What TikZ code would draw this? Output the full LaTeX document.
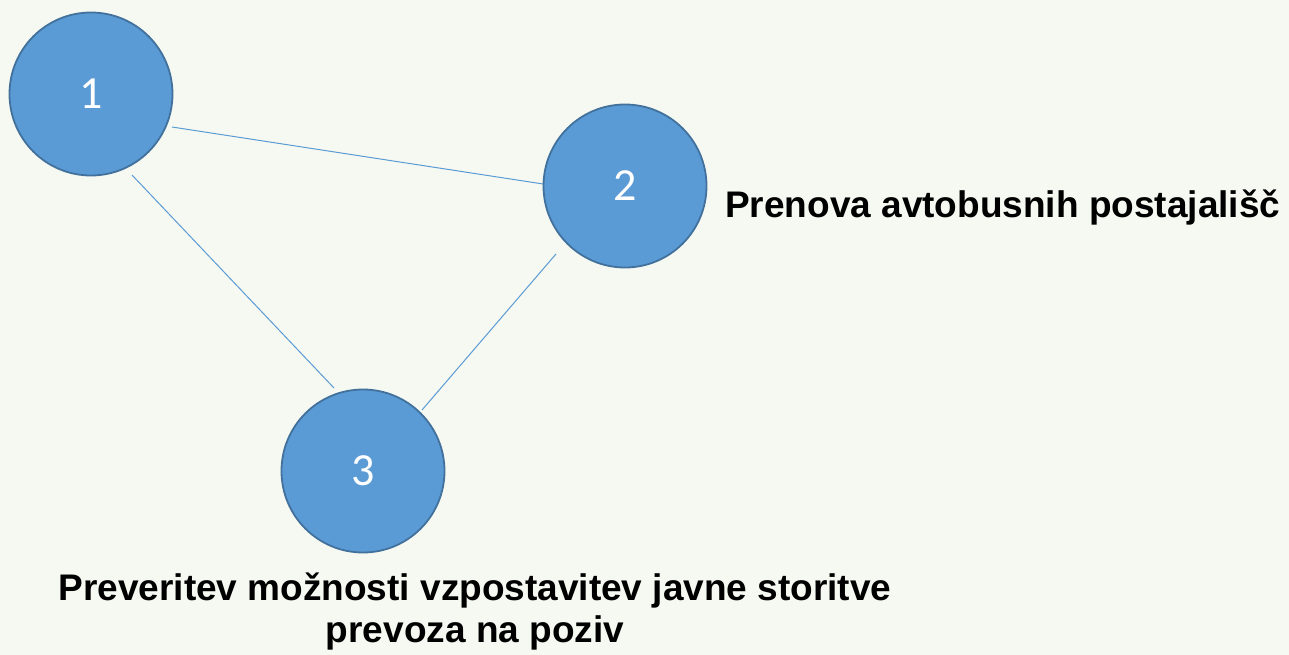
\documentclass[tikz,border=0pt]{standalone}
\usepackage{fontspec}
\setmainfont{Liberation Sans}
\newfontfamily\numfont{Carlito}
\definecolor{bg}{HTML}{F6F9F1}
\definecolor{fillblue}{HTML}{5B9BD5}
\definecolor{edgeblue}{HTML}{41719C}
\begin{document}
\begin{tikzpicture}[x=1pt,y=-1pt,
  bubble/.style={circle, fill=fillblue, draw=edgeblue, line width=1.8pt, minimum size=163pt, inner sep=0pt, text=white, font=\numfont\fontsize{46}{50}\selectfont},
  link/.style={draw=fillblue, line width=1pt},
  label/.style={font=\bfseries\fontsize{37}{42}\selectfont, text=black, inner sep=0pt}]
\fill[bg] (0,0) rectangle (1289,655);
\useasboundingbox (0,0) rectangle (1289,655);
\node[bubble] (c1) at (91,94) {1};
\node[bubble] (c2) at (625,186) {2};
\node[bubble] (c3) at (363,471) {3};
\draw[link] ([shift={(81,33)}]c1.center) -- ([shift={(-82,-2)}]c2.center);
\draw[link] ([shift={(41,81)}]c1.center) -- ([shift={(-29,-83)}]c3.center);
\draw[link] ([shift={(-69,68)}]c2.center) -- ([shift={(59,-61)}]c3.center);
\node[label, anchor=west] (t2) at (725,208) {Prenova avtobusnih postajališč};
\node[label, align=center] (t3) at (475,612) {Preveritev možnosti vzpostavitev javne storitve\\prevoza na poziv};
\end{tikzpicture}
\end{document}
